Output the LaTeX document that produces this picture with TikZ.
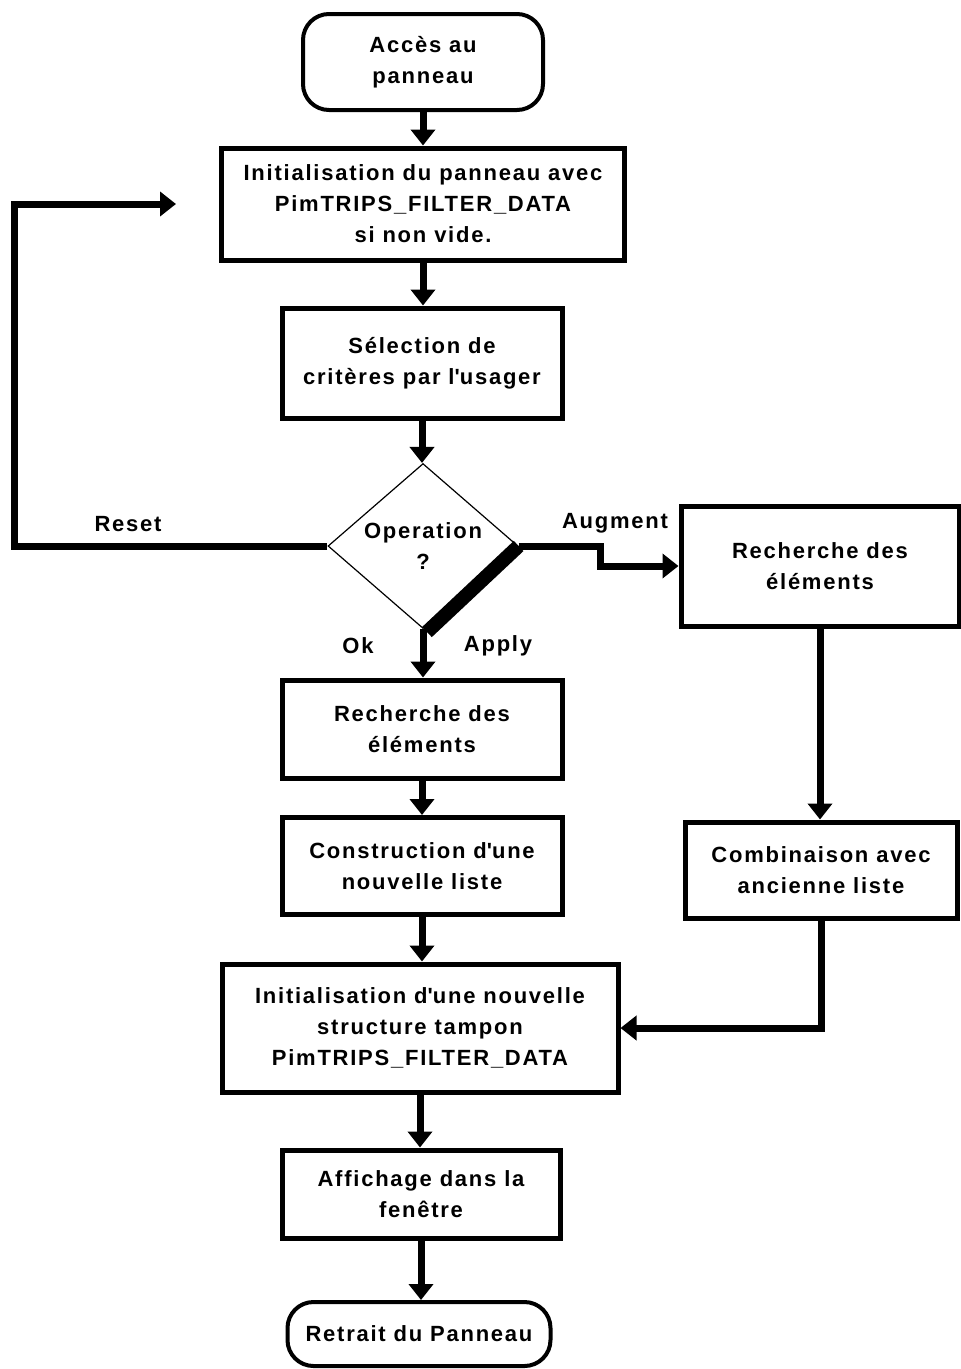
\documentclass[tikz,border=0pt]{standalone}
\usepackage{fontspec}
\setmainfont{Liberation Sans}[LetterSpace=8]
\usetikzlibrary{shapes.geometric,arrows.meta}
\newcommand\lblfont{\fontsize{22}{31}\selectfont\bfseries}
\newcommand\apos{\textquotesingle}
\begin{document}
\begin{tikzpicture}[x=1pt,y=-1pt,
  box/.style={draw, line width=5pt, inner sep=0pt, align=center, font=\lblfont},
  term/.style={box, rounded corners=26pt, line width=4pt},
  link/.style={line width=7pt},
  tipped/.style={-{Triangle[width=24pt,length=16pt]}},
  lbl/.style={inner sep=0pt, font=\lblfont}]
\useasboundingbox (0,0) rectangle (961,1369);
\fill[white] (0,0) rectangle (961,1369);
% nodes
\node[term, minimum width=240pt, minimum height=96pt] (start) at (423,62) {Accès au\\panneau};
\node[box, minimum width=403pt, minimum height=112pt] (init) at (423,204) {Initialisation du panneau avec\\PimTRIPS\_FILTER\_DATA\\si non vide.};
\node[box, minimum width=280pt, minimum height=110pt] (sel) at (422,363) {Sélection de\\critères par l\apos usager};
\node[draw, line width=1.2pt, shape=diamond, minimum width=190pt, minimum height=161pt, inner sep=0pt, align=center, font=\lblfont] (op) at (423,546) {Operation\\?};
\node[box, minimum width=280pt, minimum height=98pt] (rech) at (422,729) {Recherche des\\éléments};
\node[box, minimum width=280pt, minimum height=97pt] (cons) at (422,866) {Construction d\apos une\\nouvelle liste};
\node[box, minimum width=278pt, minimum height=120pt] (rechR) at (820,566) {Recherche des\\éléments};
\node[box, minimum width=272pt, minimum height=96pt] (comb) at (821,870) {Combinaison avec\\ancienne liste};
\node[box, minimum width=396pt, minimum height=128pt] (init2) at (420,1028) {Initialisation d\apos une nouvelle\\structure tampon\\PimTRIPS\_FILTER\_DATA};
\node[box, minimum width=278pt, minimum height=88pt] (aff) at (421,1194) {Affichage dans la\\fenêtre};
\node[term, minimum width=263pt, minimum height=64pt] (retr) at (419,1334) {Retrait du Panneau};
% labels
\node[lbl] (lreset) at (128,524) {Reset};
\node[lbl] (laug) at (615,523) {Augment};
\node[lbl] (lok) at (358,646) {Ok};
\node[lbl] (lapply) at (498,646) {Apply};
% coordinates
\coordinate (rcorner) at (14,546);
\coordinate (rend) at (176,204);
\coordinate (augA) at (600,546);
\coordinate (augB) at (600,566);
\coordinate (appEnd) at (427,632);
% connectors
\draw[link,tipped] (start.south) -- (start.south |- init.north);
\draw[link,tipped] (init.south) -- (init.south |- sel.north);
\draw[link,tipped] (sel.south) -- (sel.south |- op.north);
\draw[link,tipped] (op.west) -- (rcorner) |- (rend);
\draw[link,tipped] (op.east) -- (augA) -- (augB) -- (augB -| rechR.west);
\draw[line width=14pt] (op.east) -- (appEnd);
\draw[link,tipped] (op.south) -- (op.south |- rech.north);
\draw[link,tipped] (rech.south) -- (rech.south |- cons.north);
\draw[link,tipped] (cons.south) -- (cons.south |- init2.north);
\draw[link,tipped] (rechR.south) -- (rechR.south |- comb.north);
\draw[link,tipped] (comb.south) |- (init2.east);
\draw[link,tipped] (init2.south) -- (init2.south |- aff.north);
\draw[link,tipped] (aff.south) -- (aff.south |- retr.north);
\end{tikzpicture}
\end{document}
